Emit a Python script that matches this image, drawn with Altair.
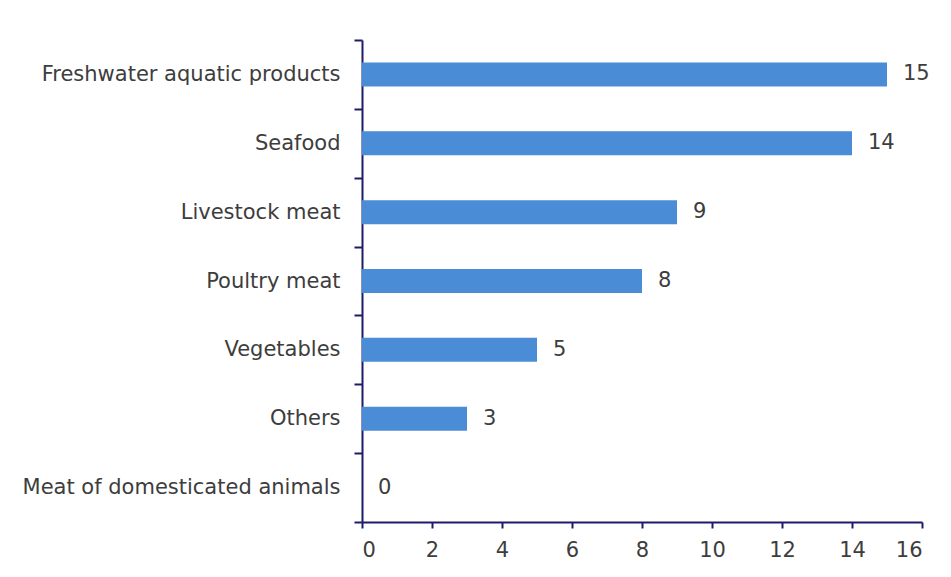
import altair as alt
import pandas as pd

categories = ["Freshwater aquatic products", "Seafood", "Livestock meat", "Poultry meat",
              "Vegetables", "Others", "Meat of domesticated animals"]
values = [15, 14, 9, 8, 5, 3, 0]
x_ticks = [0, 2, 4, 6, 8, 10, 12, 14, 16]

df = pd.DataFrame({"category": categories, "value": values})

AXIS = "#1c1c6b"
TEXT = "#3d3d3d"
FONT = "DejaVu Sans"
FS = 21

y_enc = alt.Y("category:N", sort=categories, title=None,
              scale=alt.Scale(paddingInner=0, paddingOuter=0),
              axis=alt.Axis(domainColor=AXIS, domainWidth=2, tickColor=AXIS, tickWidth=2,
                            tickSize=8, tickBand="extent", labelPadding=14,
                            labelFontSize=FS, labelColor=TEXT, labelFont=FONT,
                            labelLimit=400, grid=False))
x_enc = alt.X("value:Q", title=None,
              scale=alt.Scale(domain=[0, 16], nice=False),
              axis=alt.Axis(values=x_ticks, domainColor=AXIS, domainWidth=2, tickColor=AXIS,
                            tickWidth=2, tickSize=6, labelPadding=11, labelFontSize=FS,
                            labelColor=TEXT, labelFont=FONT, grid=False))

bars = alt.Chart(df).mark_bar(size=24, color="#4a8dd6").encode(x=x_enc, y=y_enc)
labels = alt.Chart(df).mark_text(align="left", baseline="middle", dx=16, fontSize=FS,
                                 color=TEXT, font=FONT).encode(
    x="value:Q", y=alt.Y("category:N", sort=categories), text="value:Q")

chart = alt.layer(bars, labels).properties(
    width=560, height=482,
    autosize=alt.AutoSizeParams(type="none"),
    padding={"left": 354, "top": 32, "right": 15, "bottom": 50},
    background="white",
).configure_view(stroke=None)

chart.save("out.html", embed_options={"renderer": "svg", "actions": False})
